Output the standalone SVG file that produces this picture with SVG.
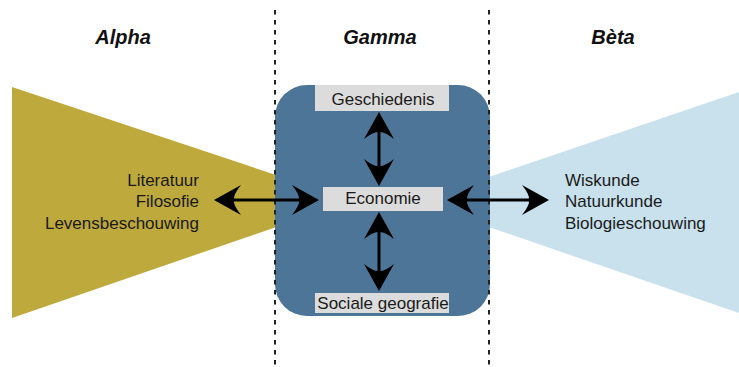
<svg xmlns="http://www.w3.org/2000/svg" width="739" height="367" viewBox="0 0 739 367">
<style>
.title{font-family:"Liberation Sans",Arial,sans-serif;font-weight:bold;font-style:italic;font-size:20px;fill:#111;text-anchor:middle}
.t{font-family:"Liberation Sans",Arial,sans-serif;font-size:17px;fill:#1a1a1a}
.c{text-anchor:middle}
.lab{fill:#dcdcdc}
.dash{stroke:#222;stroke-width:2;stroke-dasharray:4.5 5.5;fill:none}
.arr{stroke:#000;stroke-width:3;fill:none;marker-start:url(#ah);marker-end:url(#ah)}
</style>
<defs>
<marker id="ah" viewBox="0 0 28 30" refX="12" refY="15" markerWidth="28" markerHeight="30" markerUnits="userSpaceOnUse" orient="auto-start-reverse">
<path d="M27,15 L0,0 Q8,10 7,15 Q8,20 0,30 Z" fill="#000"/>
</marker>
</defs>
<rect width="739" height="367" fill="#fff"/>
<g id="alpha">
<polygon points="12,87 285,178 285,224 12,318" fill="#bea93d"/>
<text class="t" text-anchor="end" x="199" y="186">Literatuur</text>
<text class="t" text-anchor="end" x="199" y="207">Filosofie</text>
<text class="t" text-anchor="end" x="199" y="229">Levensbeschouwing</text>
</g>
<g id="beta">
<polygon points="739,92 480,180 480,224 739,313" fill="#c8e1ec"/>
<text class="t" x="565" y="186">Wiskunde</text>
<text class="t" x="565" y="207">Natuurkunde</text>
<text class="t" x="565" y="229">Biologieschouwing</text>
</g>
<g id="gamma">
<rect x="275" y="85" width="215" height="231" rx="32" fill="#4d7597"/>
</g>
<g id="separators">
<line class="dash" x1="275" y1="10" x2="275" y2="367"/>
<line class="dash" x1="489" y1="10" x2="489" y2="367"/>
</g>
<g id="titles">
<text class="title" x="123" y="44">Alpha</text>
<text class="title" x="380" y="44">Gamma</text>
<text class="title" x="613" y="44">Bèta</text>
</g>
<g id="geschiedenis">
<rect class="lab" x="315" y="85" width="134" height="26"/>
<text class="t c" x="383" y="105">Geschiedenis</text>
</g>
<g id="economie">
<rect class="lab" x="323" y="187" width="120" height="24"/>
<text class="t c" x="383" y="204">Economie</text>
</g>
<g id="sociale-geografie">
<rect class="lab" x="315" y="293" width="134" height="20"/>
<text class="t c" x="383" y="309">Sociale geografie</text>
</g>
<g id="connectors">
<line class="arr" x1="229" y1="200" x2="304" y2="200"/>
<line class="arr" x1="462" y1="200" x2="534" y2="200"/>
<line class="arr" x1="379" y1="127" x2="379" y2="171"/>
<line class="arr" x1="379" y1="227" x2="379" y2="276"/>
</g>
</svg>
